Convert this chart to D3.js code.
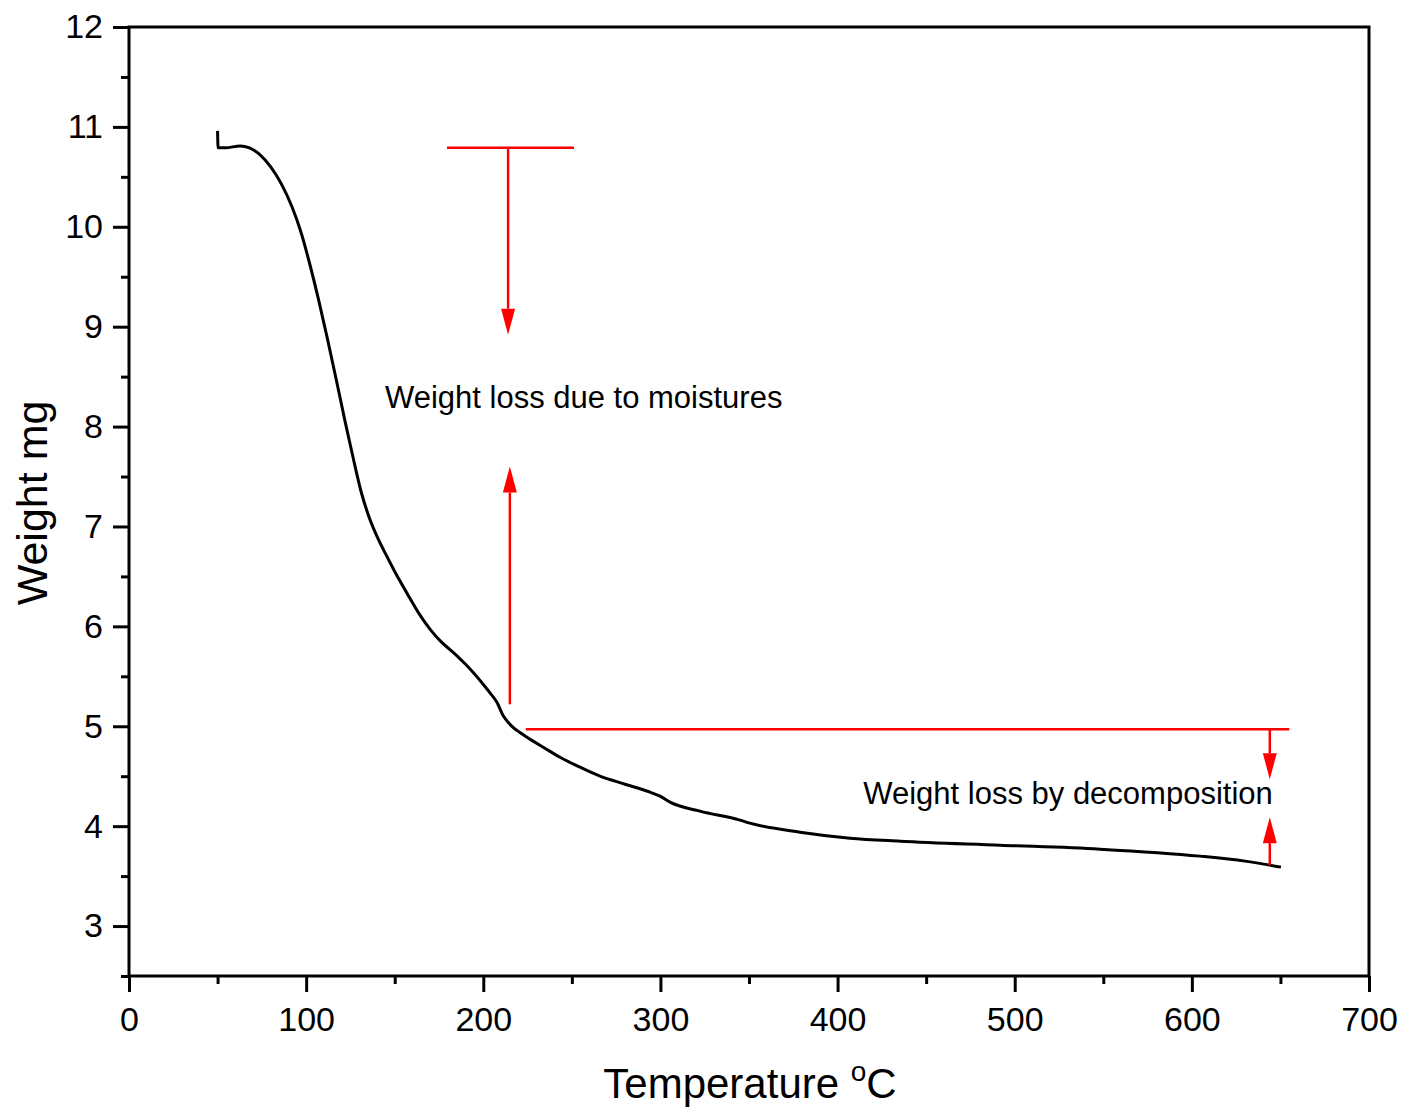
<!DOCTYPE html>
<html><head><meta charset="utf-8">
<script src="https://cdn.jsdelivr.net/npm/d3@7"></script>
<style>body{margin:0;background:#fff}svg{display:block}text{font-family:"Liberation Sans",Arial,sans-serif}</style>
</head><body><svg id="c" width="1415" height="1108"></svg>
<script>
// Data (temperature °C, weight mg)
const temperature = [50.0,50.3,54.5,62.7,68,74,80,86,92,97,102,107,112,117,122,127,131,135,140,145,150,157,164,170,176,181,186,190,194.2,199,204,207.7,211.1,214,216.8,220.5,224.7,234.8,243.3,254.6,265.9,280,294.1,299.8,305.4,322.3,344.9,350.5,378.8,407,435.3,491.7,548.1,604.6,630,650.3];
const weight      = [10.96,10.79,10.79,10.81,10.79,10.72,10.6,10.43,10.2,9.95,9.63,9.27,8.88,8.47,8.05,7.65,7.35,7.12,6.9,6.72,6.55,6.33,6.12,5.97,5.85,5.77,5.69,5.62,5.54,5.44,5.33,5.24,5.11,5.04,4.99,4.94,4.89,4.78,4.69,4.59,4.50,4.42,4.34,4.30,4.24,4.15,4.06,4.03,3.94,3.88,3.85,3.81,3.77,3.70,3.65,3.59];
const xTicks = [0,100,200,300,400,500,600,700];
const xMinor = [50,150,250,350,450,550,650];
const yTicks = [3,4,5,6,7,8,9,10,11,12];
const yMinor = [2.5,3.5,4.5,5.5,6.5,7.5,8.5,9.5,10.5,11.5];
// Annotations (data units)
const annoLines = [ {x1:179.5,y1:10.79,x2:251.2,y2:10.79}, {x1:224,y1:4.97,x2:655,y2:4.97} ];
const annoArrows = [ {x:214,from:10.79,to:8.92}, {x:215,from:5.22,to:7.6}, {x:644,from:4.97,to:4.47}, {x:644,from:3.61,to:4.09} ];
const annoTexts = [ {x:144.5,y:8.19,t:"Weight loss due to moistures"}, {x:414.5,y:4.22,t:"Weight loss by decomposition"} ];

const svg = d3.select("#c");
const L=129,R=1369,T=27,B=976;
const x = d3.scaleLinear().domain([0,700]).range([L,R]);
const y = d3.scaleLinear().domain([2.5,12]).range([B,T]);
const fs = 34;
const ff = "Liberation Sans, Arial, sans-serif";

// frame
svg.append("rect").attr("x",L).attr("y",T).attr("width",R-L).attr("height",B-T)
  .attr("fill","none").attr("stroke","#000").attr("stroke-width",3);

// x axis
const gx = svg.append("g").attr("transform",`translate(0,${B})`)
  .call(d3.axisBottom(x).tickValues(xTicks).tickSize(16).tickSizeOuter(0).tickPadding(15));
gx.select(".domain").remove();
gx.selectAll("line").attr("stroke-width",3);
gx.selectAll("text").attr("font-size",fs).attr("font-family",ff);
const gxm = svg.append("g").attr("transform",`translate(0,${B})`)
  .call(d3.axisBottom(x).tickValues(xMinor).tickSize(8).tickSizeOuter(0).tickFormat(""));
gxm.select(".domain").remove(); gxm.selectAll("line").attr("stroke-width",3);

// y axis
const gy = svg.append("g").attr("transform",`translate(${L},0)`)
  .call(d3.axisLeft(y).tickValues(yTicks).tickSize(16).tickSizeOuter(0).tickPadding(10));
gy.select(".domain").remove();
gy.selectAll("line").attr("stroke-width",3);
gy.selectAll("text").attr("font-size",fs).attr("font-family",ff);
const gym = svg.append("g").attr("transform",`translate(${L},0)`)
  .call(d3.axisLeft(y).tickValues(yMinor).tickSize(8).tickSizeOuter(0).tickFormat(""));
gym.select(".domain").remove(); gym.selectAll("line").attr("stroke-width",3);

// axis titles
const xt = svg.append("text").attr("x",750).attr("y",1098).attr("text-anchor","middle").attr("font-size",42).attr("fill","#000");
xt.append("tspan").text("Temperature ");
xt.append("tspan").attr("font-size",28).attr("dy",-17).text("o");
xt.append("tspan").attr("dy",17).text("C");
svg.append("text").attr("transform","translate(47,503) rotate(-90)").attr("text-anchor","middle")
  .attr("font-size",43).attr("fill","#000").text("Weight mg");

// curve
const pts = temperature.map((t,i)=>[t,weight[i]]);
svg.append("path").datum(pts)
  .attr("d", d3.line().x(d=>x(d[0])).y(d=>y(d[1])).curve(d3.curveMonotoneX))
  .attr("fill","none").attr("stroke","#000").attr("stroke-width",3).attr("stroke-linejoin","round");

// annotations
const red="#ff0000";
svg.selectAll(".al").data(annoLines).join("line")
  .attr("x1",d=>x(d.x1)).attr("x2",d=>x(d.x2)).attr("y1",d=>y(d.y1)).attr("y2",d=>y(d.y2))
  .attr("stroke",red).attr("stroke-width",2.5);
annoArrows.forEach(a=>{
  const px=x(a.x), y0=y(a.from), y1=y(a.to);
  const dir = y1>y0?1:-1, hl=26, hw=7;
  svg.append("line").attr("x1",px).attr("x2",px).attr("y1",y0).attr("y2",y1-dir*hl)
    .attr("stroke",red).attr("stroke-width",2.5);
  svg.append("path").attr("d",`M${px},${y1}L${px-hw},${y1-dir*hl}L${px+hw},${y1-dir*hl}Z`).attr("fill",red);
});
svg.selectAll(".at").data(annoTexts).join("text")
  .attr("x",d=>x(d.x)).attr("y",d=>y(d.y)).attr("font-size",31).attr("font-family",ff).attr("fill","#000").text(d=>d.t);
</script></body></html>
